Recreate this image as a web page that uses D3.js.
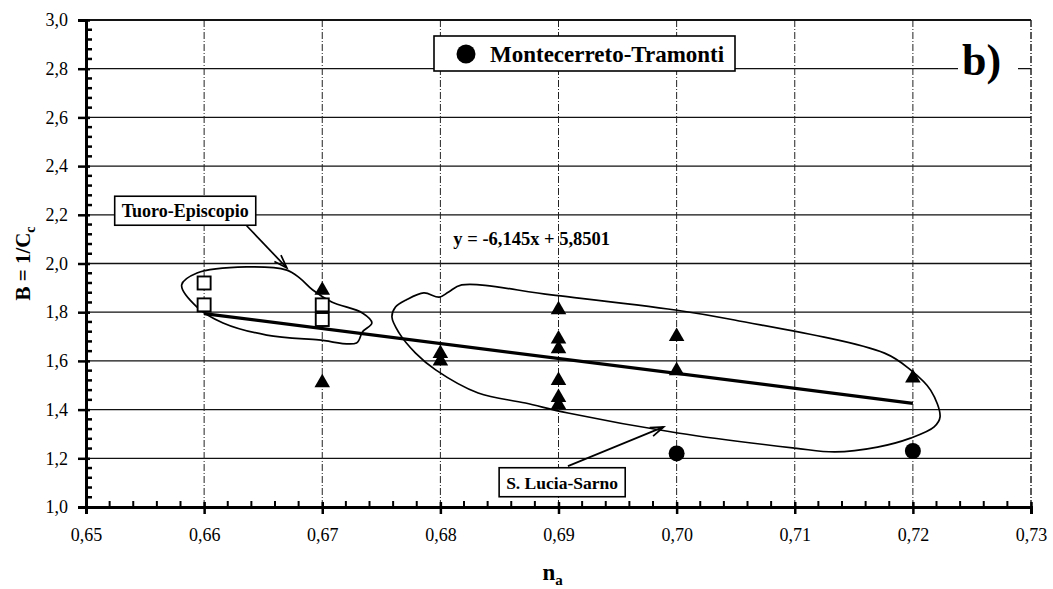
<!DOCTYPE html>
<html><head><meta charset="utf-8">
<script src="https://cdn.jsdelivr.net/npm/d3@7"></script>
<style>
body{margin:0;background:#fff;}
svg{display:block;font-family:"Liberation Serif","Times New Roman",serif;}
</style></head>
<body><svg id="c" width="1053" height="589"></svg>
<script>
// ---- data ----
const xTicks = [0.65,0.66,0.67,0.68,0.69,0.70,0.71,0.72,0.73];
const yTicks = [1.0,1.2,1.4,1.6,1.8,2.0,2.2,2.4,2.6,2.8,3.0];
const tuoroX = [0.66,0.66,0.67,0.67];
const tuoroY = [1.92,1.83,1.83,1.77];
const sarnoX = [0.67,0.67,0.68,0.68,0.69,0.69,0.69,0.69,0.69,0.69,0.70,0.70,0.72];
const sarnoY = [1.89,1.51,1.63,1.60,1.81,1.69,1.65,1.52,1.45,1.42,1.70,1.56,1.53];
const montX = [0.70,0.72];
const montY = [1.22,1.23];
const slope = -6.145, intercept = 5.8501, fitRange = [0.66,0.72];
const eqLabel = "y = -6,145x + 5,8501";
const legendLabel = "Montecerreto-Tramonti";
const panelLabel = "b)";
// hand-drawn group outlines (data coordinates)
const tuoroOutline = [[0.6581,1.912],[0.6594,1.961],[0.6636,1.986],[0.6670,1.973],[0.6681,1.940],[0.6692,1.891],[0.6708,1.842],[0.6734,1.797],[0.6742,1.756],[0.6734,1.719],[0.6729,1.674],[0.6697,1.686],[0.6653,1.706],[0.6616,1.756],[0.6594,1.821]];
const sarnoOutline = [[0.6759,1.780],[0.6762,1.821],[0.6771,1.850],[0.6786,1.879],[0.6799,1.862],[0.6807,1.883],[0.6818,1.912],[0.6894,1.871],[0.6999,1.809],[0.7049,1.768],[0.7176,1.632],[0.7198,1.563],[0.7215,1.480],[0.7223,1.370],[0.7218,1.329],[0.7198,1.283],[0.7170,1.246],[0.7134,1.226],[0.7100,1.242],[0.7001,1.304],[0.6908,1.386],[0.6872,1.427],[0.6832,1.468],[0.6796,1.563],[0.6779,1.632],[0.6765,1.715]];
const tuoroLabel = {text:"Tuoro-Episcopio", x:0.6584, y:2.19, ax:[0.6636,2.155], bx:[0.6670,1.982]};
const sarnoLabel = {text:"S. Lucia-Sarno", x:0.6903, y:1.075, ax:[0.6908,1.168], bx:[0.6989,1.329]};

// ---- chart ----
const svg = d3.select("#c");
const L=86, R=1031, T=20, B=507;
const x = d3.scaleLinear().domain([0.65,0.73]).range([L,R]);
const y = d3.scaleLinear().domain([1,3]).range([B,T]);
const fmt = d3.format(".2f"), fmty = d3.format(".1f");
const comma = s => s.replace(".", ",");

// gridlines
svg.append("g").selectAll("line").data(yTicks.slice(1)).join("line")
  .attr("x1",L).attr("x2",R).attr("y1",d=>y(d)).attr("y2",d=>y(d))
  .attr("stroke","#111").attr("stroke-width",1.3);
svg.append("g").selectAll("line").data(xTicks.slice(1)).join("line")
  .attr("x1",d=>x(d)).attr("x2",d=>x(d)).attr("y1",T).attr("y2",B)
  .attr("stroke","#222").attr("stroke-width",1).attr("stroke-dasharray","7,2,1,2");

// fit line
svg.append("line")
  .attr("x1",x(fitRange[0])).attr("y1",y(slope*fitRange[0]+intercept))
  .attr("x2",x(fitRange[1])).attr("y2",y(slope*fitRange[1]+intercept))
  .attr("stroke","#000").attr("stroke-width",3.2);

// outlines
const curve = d3.line().x(d=>x(d[0])).y(d=>y(d[1])).curve(d3.curveCatmullRomClosed.alpha(0.5));
svg.append("path").attr("d",curve(tuoroOutline)).attr("fill","none").attr("stroke","#000").attr("stroke-width",1.7);
svg.append("path").attr("d",curve(sarnoOutline)).attr("fill","none").attr("stroke","#000").attr("stroke-width",1.7);

// markers
const tri = d3.symbol().type(d3.symbolTriangle).size(105);
svg.append("g").selectAll("path").data(sarnoX.map((v,i)=>[v,sarnoY[i]])).join("path")
  .attr("d",tri).attr("transform",d=>`translate(${x(d[0])},${y(d[1])})`).attr("fill","#000");
svg.append("g").selectAll("rect").data(tuoroX.map((v,i)=>[v,tuoroY[i]])).join("rect")
  .attr("x",d=>x(d[0])-6.5).attr("y",d=>y(d[1])-6.5).attr("width",13).attr("height",13)
  .attr("fill","#fff").attr("stroke","#000").attr("stroke-width",1.9);
svg.append("g").selectAll("circle").data(montX.map((v,i)=>[v,montY[i]])).join("circle")
  .attr("cx",d=>x(d[0])).attr("cy",d=>y(d[1])).attr("r",8).attr("fill","#000");

// borders
svg.append("line").attr("x1",L).attr("x2",R).attr("y1",T).attr("y2",T).attr("stroke","#000").attr("stroke-width",1.5);
svg.append("line").attr("x1",R).attr("x2",R).attr("y1",T).attr("y2",B).attr("stroke","#222").attr("stroke-width",1).attr("stroke-dasharray","7,2,1,2");

// axes
const yAxis = d3.axisLeft(y).tickValues(yTicks).tickFormat(d=>comma(fmty(d))).tickSize(8).tickPadding(10);
const gy = svg.append("g").attr("transform",`translate(${L},0)`).call(yAxis);
const xAxis = d3.axisBottom(x).tickValues(xTicks).tickFormat(d=>comma(fmt(d))).tickSize(7).tickPadding(14);
const gx = svg.append("g").attr("transform",`translate(0,${B})`).call(xAxis);
[gy,gx].forEach(g=>{
  g.attr("font-size",18).attr("font-family","Liberation Serif");
  g.select(".domain").attr("stroke","#000").attr("stroke-width",3);
  g.selectAll(".tick line").attr("stroke","#000").attr("stroke-width",2.5);
  g.selectAll("text").attr("font-family","Liberation Serif").attr("font-size",18).attr("fill","#000");
});
gx.selectAll(".tick line").attr("y1",-5);
gy.selectAll(".tick line").attr("x1",4);
// minor ticks (inside)
const yMinor = d3.range(1.04,3.0,0.04).filter(v=>Math.abs(v*5-Math.round(v*5))>1e-6);
svg.append("g").selectAll("line").data(yMinor).join("line")
  .attr("x1",L-1).attr("x2",L+6).attr("y1",d=>y(d)).attr("y2",d=>y(d)).attr("stroke","#000").attr("stroke-width",2.5);
const xMinor = d3.range(0.652,0.73,0.002).filter(v=>Math.abs(v*100-Math.round(v*100))>1e-6);
svg.append("g").selectAll("line").data(xMinor).join("line")
  .attr("x1",d=>x(d)).attr("x2",d=>x(d)).attr("y1",B).attr("y2",B-6).attr("stroke","#000").attr("stroke-width",2);

// axis titles
svg.append("text").attr("transform",`translate(30,${y(2.0)}) rotate(-90)`).attr("text-anchor","middle")
  .attr("font-weight","bold").attr("font-size",21)
  .html('B = 1/C<tspan font-size="14" dy="5">c</tspan>');
svg.append("text").attr("x",x(0.6895)).attr("y",580).attr("text-anchor","middle")
  .attr("font-weight","bold").attr("font-size",23)
  .html('n<tspan font-size="15" dy="5">a</tspan>');

// equation
svg.append("text").attr("x",x(0.6811)).attr("y",y(2.076)).attr("font-weight","bold").attr("font-size",18.5).text(eqLabel);

// legend box
const lg = svg.append("g");
lg.append("rect").attr("x",434).attr("y",36).attr("width",301).attr("height",35).attr("fill","#fff").attr("stroke","#000").attr("stroke-width",1.6);
lg.append("circle").attr("cx",466).attr("cy",54).attr("r",9.5).attr("fill","#000");
lg.append("text").attr("x",490).attr("y",61.5).attr("font-weight","bold").attr("font-size",23).text(legendLabel);

// panel label
svg.append("rect").attr("x",958).attr("y",36).attr("width",60).attr("height",50).attr("fill","#fff");
svg.append("text").attr("x",962).attr("y",75).attr("font-weight","bold").attr("font-size",44).text(panelLabel);

// group labels with arrows
function note(n, fs){
  const g = svg.append("g");
  const t = g.append("text").attr("x",x(n.x)).attr("y",y(n.y)).attr("text-anchor","middle")
    .attr("font-weight","bold").attr("font-size",fs).text(n.text);
  const bb = t.node().getBBox();
  g.insert("rect","text").attr("x",bb.x-7).attr("y",bb.y-5).attr("width",bb.width+14).attr("height",bb.height+9)
    .attr("fill","#fff").attr("stroke","#000").attr("stroke-width",1.6);
  const x1=x(n.ax[0]),y1=y(n.ax[1]),x2=x(n.bx[0]),y2=y(n.bx[1]);
  g.append("line").attr("x1",x1).attr("y1",y1).attr("x2",x2).attr("y2",y2).attr("stroke","#000").attr("stroke-width",1.7);
  const a=Math.atan2(y2-y1,x2-x1), h=14, w=0.33;
  g.append("path").attr("d",`M${x2-h*Math.cos(a-w)},${y2-h*Math.sin(a-w)}L${x2},${y2}L${x2-h*Math.cos(a+w)},${y2-h*Math.sin(a+w)}`)
    .attr("fill","none").attr("stroke","#000").attr("stroke-width",1.7);
}
note(tuoroLabel, 18); note(sarnoLabel, 17.5);
</script></body></html>
